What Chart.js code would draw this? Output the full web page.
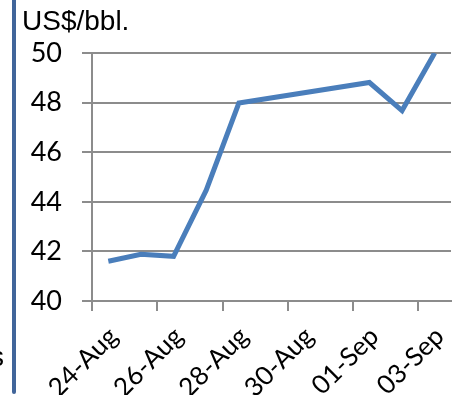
<!DOCTYPE html>
<html>
<head>
<meta charset="utf-8">
<script src="https://cdn.jsdelivr.net/npm/chart.js@4.4.1/dist/chart.umd.min.js"></script>
<style>
  body { margin: 0; background: #fff; }
  #wrap { position: relative; width: 456px; height: 395px; overflow: hidden; }
  #bar { position: absolute; left: 12px; top: 0; width: 4px; height: 394px; background: #41659a; border-radius: 0 0 2px 2px; }
  #unit { position: absolute; left: 22px; top: 7px; font: 28px "Liberation Sans", Arial, sans-serif; line-height: 1; color: #000; }
  #cut { position: absolute; left: -10px; top: 343px; font: 28px "Liberation Sans", Arial, sans-serif; line-height: 1; color: #000; }
  canvas { position: absolute; left: 0; top: 0; }
</style>
</head>
<body>
<div id="wrap">
  <canvas id="chart" width="456" height="395"></canvas>
  <div id="bar"></div>
  <div id="unit">US$/bbl.</div>
  <div id="cut">s</div>
</div>
<script>
// daily price, gaps are days with no quote
const days = ["24-Aug", "25-Aug", "26-Aug", "27-Aug", "28-Aug", "29-Aug",
              "30-Aug", "31-Aug", "01-Sep", "02-Sep", "03-Sep"];
const prices = [41.6, 41.88, 41.8, 44.47, 47.98, null, null, null, 48.81, 47.68, 50.0];
const yTicks = [40, 42, 44, 46, 48, 50];

const gridGray = "#8c8c8c";
const ctx = document.getElementById("chart").getContext("2d");

new Chart(ctx, {
    type: "line",
    data: {
        labels: days,
        datasets: [{
            data: prices,
            borderColor: "#4a7ebb",
            borderWidth: 5,
            pointRadius: 0,
            tension: 0,
            spanGaps: true
        }]
    },
    options: {
        responsive: false,
        animation: false,
        layout: { padding: { left: 0, right: 5, top: 53, bottom: 0 } },
        plugins: { legend: { display: false }, tooltip: { enabled: false } },
        scales: {
            x: {
                offset: true,
                grid: {
                    offset: true,
                    drawOnChartArea: false,
                    tickLength: 10,
                    lineWidth: 2,
                    // tick marks only every second day
                    color: c => (c.index !== undefined && c.index % 2 === 0) ? gridGray : "transparent"
                },
                border: { display: true, color: gridGray, width: 2 },
                ticks: {
                    autoSkip: false,
                    minRotation: 45,
                    maxRotation: 45,
                    padding: 10,
                    labelOffset: 5,
                    color: "#000",
                    font: { family: "Lato", size: 26 },
                    callback: function(value, index) {
                        return index % 2 === 0 ? this.getLabelForValue(value) : "";
                    }
                },
                afterFit: scale => {
                    scale.height = 94;
                    scale.paddingRight = 0;
                }
            },
            y: {
                min: yTicks[0],
                max: yTicks[yTicks.length - 1],
                afterBuildTicks: scale => { scale.ticks = yTicks.map(v => ({ value: v })); },
                grid: { color: gridGray, lineWidth: 2, tickLength: 10 },
                border: { display: true, color: gridGray, width: 2 },
                ticks: {
                    padding: 20,
                    color: "#000",
                    font: { family: "Lato", size: 27 }
                },
                afterFit: scale => { scale.width = 92; }
            }
        }
    }
});
</script>
</body>
</html>
